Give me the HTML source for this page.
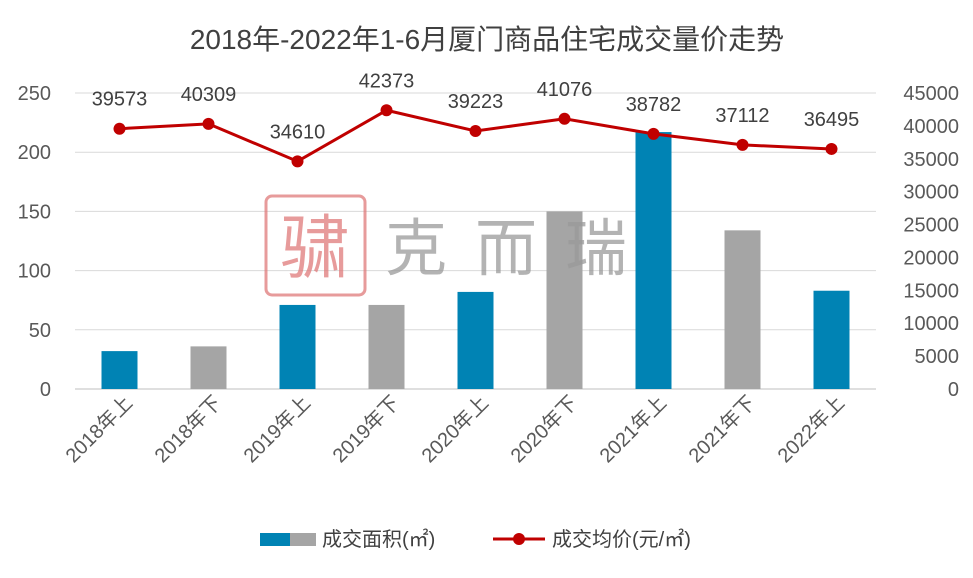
<!DOCTYPE html>
<html><head><meta charset="utf-8"><style>
body{margin:0;background:#fff;}
svg text{font-family:"Liberation Sans","Noto Sans CJK SC",sans-serif;}
</style></head><body>
<svg id="c" width="973" height="573" xmlns="http://www.w3.org/2000/svg">
<rect width="973" height="573" fill="#fff"/>
<text x="487" y="49" text-anchor="middle" font-size="28" fill="#404040">2018年-2022年1-6月厦门商品住宅成交量价走势</text>
<g id="grid"></g><g id="bars"></g>
<g opacity="0.75">
<rect x="266" y="196" width="99" height="99" rx="6" fill="none" stroke="#e07a7a" stroke-width="3"/>
<text x="315" y="272" text-anchor="middle" font-size="70" fill="#e07a7a">骕</text>
<text x="385" y="270" font-size="62" fill="#9a9a9a" letter-spacing="28">克而瑞</text>
</g>
<g id="line"></g><g id="axes"></g>
<g>
<rect x="260" y="533" width="30" height="13" fill="#0083B4"/>
<rect x="290" y="533" width="26" height="13" fill="#A5A5A5"/>
<text x="322" y="546" font-size="20" fill="#404040">成交面积(㎡)</text>
<line x1="493" y1="539" x2="545" y2="539" stroke="#C00000" stroke-width="3"/>
<circle cx="519" cy="539" r="6" fill="#C00000"/>
<text x="552" y="546" font-size="20" fill="#404040">成交均价(元/㎡)</text>
</g>
</svg>
<script>
const categories=["2018年上","2018年下","2019年上","2019年下","2020年上","2020年下","2021年上","2021年下","2022年上"];
const areaValues=[32,36,71,71,82,150,217,134,83];
const priceValues=[39573,40309,34610,42373,39223,41076,38782,37112,36495];
const leftTicks=[0,50,100,150,200,250];
const rightTicks=[0,5000,10000,15000,20000,25000,30000,35000,40000,45000];
const NS="http://www.w3.org/2000/svg";
const X0=75,X1=876,Y0=389,Y1=93;
const bw=(X1-X0)/categories.length;
const xc=i=>X0+bw*(i+0.5);
const yL=v=>Y0-v/250*(Y0-Y1);
const yR=v=>Y0-v/45000*(Y0-Y1);
function mk(tag,attrs,parent,text){const e=document.createElementNS(NS,tag);for(const k in attrs)e.setAttribute(k,attrs[k]);if(text!==undefined)e.textContent=text;document.getElementById(parent).appendChild(e);return e;}
leftTicks.forEach(t=>{
 const g=mk('line',{x1:X0,x2:X1,y1:yL(t),y2:yL(t),stroke:t===0?'#bfbfbf':'#d9d9d9','stroke-width':1},'grid');
 
 
 const l=mk('text',{x:51,y:yL(t)+7,'text-anchor':'end','font-size':20,fill:'#595959'},'axes',t);
 
 
});
rightTicks.forEach(t=>{
 const l=mk('text',{x:959,y:yR(t)+7,'text-anchor':'end','font-size':20,fill:'#595959'},'axes',t);
 
 
});
categories.forEach((c,i)=>{
 const b=mk('rect',{x:xc(i)-18,y:yL(areaValues[i]),width:36,height:Y0-yL(areaValues[i]),fill:i%2===0?'#0083B4':'#A5A5A5'},'bars');
 
 
 const x=xc(i)+14,y=404;
 const l=mk('text',{x:x,y:y,'text-anchor':'end','font-size':20,fill:'#595959',transform:`rotate(-45 ${x} ${y})`},'axes',c);
 
 
});
const pts=priceValues.map((v,i)=>xc(i)+','+yR(v)).join(' ');
const pl=mk('polyline',{points:pts,fill:'none',stroke:'#C00000','stroke-width':3},'line');


priceValues.forEach((v,i)=>{
 const c=mk('circle',{cx:xc(i),cy:yR(v),r:6,fill:'#C00000'},'line');
 
 
 const l=mk('text',{x:xc(i),y:yR(v)-23,'text-anchor':'middle','font-size':20,fill:'#404040'},'line',v);
 
 
});
</script>
</body></html>
